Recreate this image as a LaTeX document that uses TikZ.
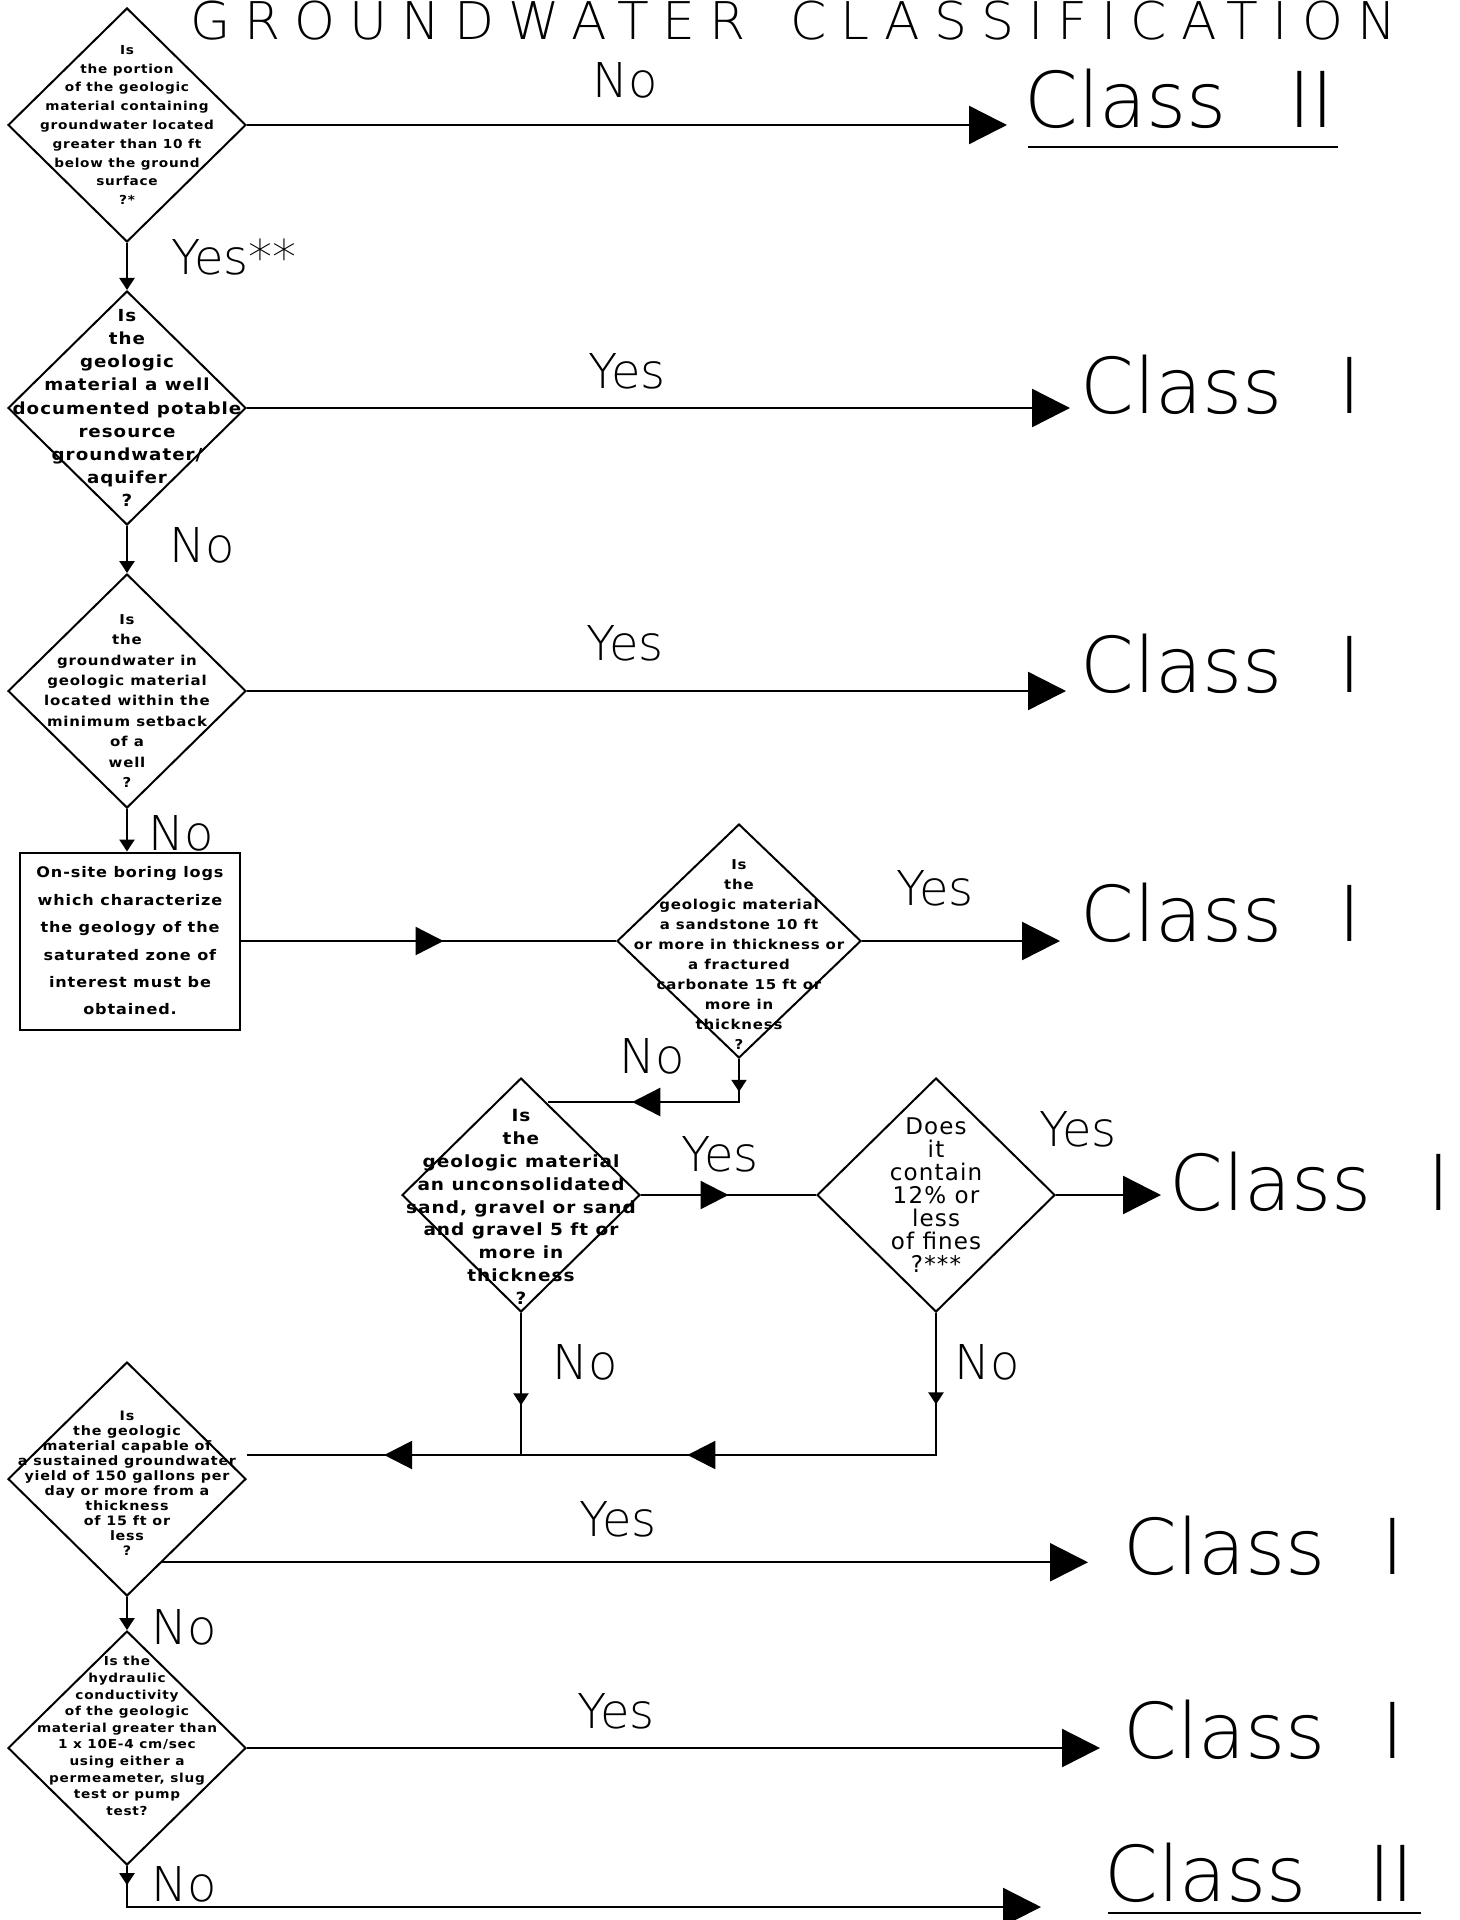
\documentclass[tikz,border=0pt]{standalone}
\usepackage{fontspec}
\setmainfont{DejaVu Sans}
\newfontfamily\lfont{DejaVu Sans ExtraLight}
\newfontfamily\dfont[FakeStretch=1.1,LetterSpace=6]{DejaVu Sans Bold}
\newfontfamily\tfont[LetterSpace=27]{DejaVu Sans ExtraLight}
\usetikzlibrary{shapes.geometric, arrows.meta, decorations.markings}

\tikzset{
  dia/.style={diamond, draw, line width=1pt, minimum width=119pt, minimum height=117pt, inner sep=0pt},
  qtext/.style={align=center, inner sep=0pt},
  lab/.style={font=\lfont\fontsize{24}{24}\selectfont},
  cls/.style={anchor=base west, inner ysep=0pt, font=\lfont\fontsize{38.5}{38.5}\selectfont},
  conn/.style={line width=1.2pt},
  tipS/.tip={Triangle[length=6pt,width=7.5pt]},
  tipM/.tip={Triangle[length=14pt,width=14pt]},
  tipB/.tip={Triangle[length=19pt,width=19pt]},
  smid/.style={postaction={decorate,decoration={markings,mark=at position #1 with {\arrow{tipS}}}}},
  bmid/.style={postaction={decorate,decoration={markings,mark=at position #1 with {\arrow{tipM}}}}}
}

\begin{document}
\begin{tikzpicture}[x=0.5pt, y=-0.5pt]
  \useasboundingbox (0,0) rectangle (1460,1920);
  \clip (0,0) rectangle (1460,1920);

  \node (title) [anchor=base west, inner sep=0pt, font=\tfont\fontsize{26}{26}\selectfont] at (190,40) {GROUNDWATER\hspace{22pt}CLASSIFICATION};

  % decision diamonds
  \node (d1) [dia] at (127,125) {};
  \node (d2) [dia] at (127,408) {};
  \node (d3) [dia] at (127,691) {};
  \node (box) [draw, line width=1pt, minimum width=110pt, minimum height=88.5pt, inner sep=0pt, align=center, font=\dfont\fontsize{7.3}{13.7}\selectfont] at (130,941) {On-site boring logs\\which characterize\\the geology of the\\saturated zone of\\interest must be\\obtained.};
  \node (d4) [dia, minimum width=122pt] at (739,941) {};
  \node (d5) [dia] at (521,1195) {};
  \node (d6) [dia] at (936,1195) {};
  \node (d7) [dia] at (127,1479) {};
  \node (d8) [dia] at (127,1748) {};

  \node (t1) [qtext, font=\dfont\fontsize{6.2}{9.4}\selectfont] at (d1) {Is\\the portion\\of the geologic\\material containing\\groundwater located\\greater than 10 ft\\below the ground\\surface\\?*};
  \node (t2) [qtext, font=\dfont\fontsize{8.3}{11.6}\selectfont] at (d2) {Is\\the\\geologic\\material a well\\documented potable\\resource\\groundwater/\\aquifer\\?};
  \node (t3) [qtext, font=\dfont\fontsize{6.8}{10.2}\selectfont, yshift=-5pt] at (d3) {Is\\the\\groundwater in\\geologic material\\located within the\\minimum setback\\of a\\well\\?};
  \node (t4) [qtext, font=\dfont\fontsize{6.8}{10}\selectfont, yshift=-7pt] at (d4) {Is\\the\\geologic material\\a sandstone 10 ft\\or more in thickness or\\a fractured\\carbonate 15 ft or\\more in\\thickness\\?};
  \node (t5) [qtext, font=\dfont\fontsize{8.4}{11.4}\selectfont, yshift=-6pt] at (d5) {Is\\the\\geologic material\\an unconsolidated\\sand, gravel or sand\\and gravel 5 ft or\\more in\\thickness\\?};
  \node (t6) [qtext, font=\addfontfeature{LetterSpace=5}\fontsize{11.5}{11.5}\selectfont] at (d6) {Does\\it\\contain\\12\% or\\less\\of fines\\?***};
  \node (t7) [qtext, font=\dfont\fontsize{6.5}{7.5}\selectfont, yshift=-2pt] at (d7) {Is\\the geologic\\material capable of\\a sustained groundwater\\yield of 150 gallons per\\day or more from a\\thickness\\of 15 ft or\\less\\?};
  \node (t8) [qtext, font=\dfont\fontsize{6.2}{8.3}\selectfont, yshift=6pt] at (d8) {Is the\\hydraulic\\conductivity\\of the geologic\\material greater than\\1 x 10E-4 cm/sec\\using either a\\permeameter, slug\\test or pump\\test?};

  % classes
  \node (c1) [cls, inner xsep=8.5pt] at (1007,128) {Class\hspace{0.8em}II};
  \node (c2) [cls, inner xsep=5pt] at (1070,413) {Class\hspace{0.72em}I};
  \node (c3) [cls, inner xsep=7pt] at (1066,692) {Class\hspace{0.72em}I};
  \node (c4) [cls, inner xsep=10pt] at (1060,941) {Class\hspace{0.72em}I};
  \node (c5) [cls, inner xsep=4pt] at (1161,1210) {Class\hspace{0.72em}I};
  \node (c6) [cls, inner xsep=17.5pt] at (1088,1574) {Class\hspace{0.72em}I};
  \node (c7) [cls, inner xsep=11.5pt] at (1100,1758) {Class\hspace{0.72em}I};
  \node (c8) [cls, inner xsep=31.5pt] at (1041,1901) {Class\hspace{0.8em}II};
  \draw [conn] ([shift={(21,19)}]c1.base west) -- ++(310,0);
  \draw [conn] ([shift={(67,12)}]c8.base west) -- ++(313,0);

  % yes / no labels
  \foreach \n/\t/\x/\y in {n1/No/625/80, y1/Yes**/234/257, y2/Yes/627/371, n2/No/202/545,
      y3/Yes/625/643, n3/No/181/833, y4/Yes/935/888, n4/No/652/1056, y5/Yes/720/1154,
      y6/Yes/1078/1129, n5/No/585/1362, n6/No/987/1362, y7/Yes/618/1519, n7/No/184/1627,
      y8/Yes/616/1711, n8/No/184/1884}
    \node (\n) [lab] at (\x,\y) {\t};

  % connectors
  \foreach \a/\b in {d1/d2, d2/d3, d7/d8}
    \draw [conn, -tipS] (\a.south) -- (\b.north);
  \draw [conn, -tipS] (d3.south) -- (d3.south |- box.north);
  \foreach \a/\c in {d1/c1, d2/c2, d3/c3, d4/c4, d6/c5, d8/c7}
    \draw [conn, -tipB] (\a.east) -- (\a.east -| \c.west);
  \draw [conn, -tipB] (d7.-67) -- (d7.-67 -| c6.west);
  \draw [conn, bmid=0.54] (box) -- (d4);

  \coordinate (k1) at (739,1102);
  \coordinate (k2) at (548,1102);
  \draw [conn, smid=0.14, bmid=0.64] (d4.south) -- (k1) -- (k2);
  \draw [conn, bmid=0.5] (d5) -- (d6);

  \coordinate (j1) at (521,1455);
  \coordinate (j2) at (936,1455);
  \draw [conn, smid=0.65] (d5.south) -- (j1);
  \draw [conn, smid=0.11, bmid=0.47, bmid=0.835] (d6.south) -- (j2) -- (j1) -- (j1 -| d7.east);

  \coordinate (k3) at (127,1907);
  \draw [conn, smid=0.02, -tipB] (d8.south) -- (k3) -- (k3 -| c8.west);
\end{tikzpicture}
\end{document}
